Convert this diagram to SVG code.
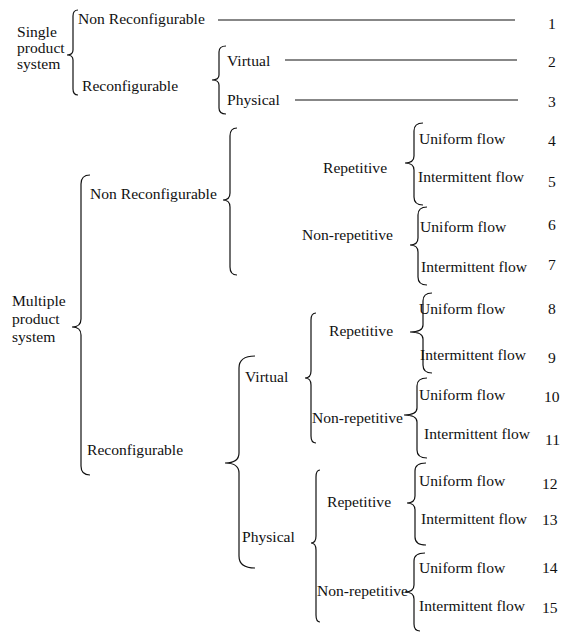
<svg xmlns="http://www.w3.org/2000/svg" width="562" height="633" viewBox="0 0 562 633">
<style>
text{font-family:"Liberation Serif","Times New Roman",serif;font-size:15.6px;fill:#111}
.b{fill:none;stroke:#111;stroke-width:1.2}
.l{stroke:#111;stroke-width:1.2}
</style>
<rect width="562" height="633" fill="#fff"/>
<g id="connectors">
<path class="b" d="M78,10 Q73,10 73,16 L73,50 Q73,55 67,55 Q73,55 73,60 L73,89 Q73,95 78,95"/>
<path class="b" d="M226,46 Q219,46 219,52 L219,75 Q219,80 212,80 Q219,80 219,85 L219,108 Q219,114 226,114"/>
<line class="l" x1="218" y1="20" x2="515" y2="20"/>
<line class="l" x1="285" y1="60" x2="517" y2="60"/>
<line class="l" x1="295" y1="100" x2="518" y2="100"/>
<path class="b" d="M90,175 Q81,175 81,184 L81,319 Q81,327 72,327 Q81,327 81,335 L81,466 Q81,475 90,475"/>
<path class="b" d="M237,128 Q230,128 230,136 L230,193 Q230,200 223,200 Q230,200 230,207 L230,267 Q230,275 237,275"/>
<path class="b" d="M423,123 Q414,123 414,131 L414,156 Q414,163 405,163 Q414,163 414,170 L414,197 Q414,205 423,205"/>
<path class="b" d="M427,207 Q418,207 418,215 L418,238 Q418,245 410,245 Q418,245 418,252 L418,277 Q418,285 427,285"/>
<path class="b" d="M255,356 Q239,356 239,368 L239,453 Q239,463 225,463 Q239,463 239,473 L239,556 Q239,568 255,568"/>
<path class="b" d="M316,313 Q311,313 311,320 L311,371 Q311,378 305,378 Q311,378 311,385 L311,436 Q311,443 316,443"/>
<path class="b" d="M432,293 Q423,293 423,301 L423,325 Q423,332 410,332 Q423,332 423,339 L423,365 Q423,373 432,373"/>
<path class="b" d="M427,378 Q417,378 417,386 L417,408 Q417,415 404,415 Q417,415 417,422 L417,450 Q417,458 427,458"/>
<path class="b" d="M320,470 Q316,470 316,477 L316,536 Q316,543 311,543 Q316,543 316,550 L316,615 Q316,622 320,622"/>
<path class="b" d="M426,463 Q415,463 415,471 L415,496 Q415,503 407,503 Q415,503 415,510 L415,537 Q415,545 426,545"/>
<path class="b" d="M425,553 Q414,553 414,561 L414,585 Q414,592 405,592 Q414,592 414,599 L414,624 Q414,631 420,631"/>
</g>
<g id="single"><text x="17" y="37">Single</text><text x="17" y="53">product</text><text x="17" y="69">system</text></g>
<g id="s-nonreconf"><text x="78" y="24">Non Reconfigurable</text></g>
<g id="s-reconf"><text x="82" y="91">Reconfigurable</text></g>
<g id="s-virtual"><text x="227" y="66">Virtual</text></g>
<g id="s-physical"><text x="227" y="105">Physical</text></g>
<g id="n1"><text x="548" y="29">1</text></g>
<g id="n2"><text x="548" y="67">2</text></g>
<g id="n3"><text x="548" y="107">3</text></g>
<g id="multiple"><text x="12" y="306">Multiple</text><text x="12" y="324">product</text><text x="12" y="342">system</text></g>
<g id="m-nonreconf"><text x="90" y="199">Non Reconfigurable</text></g>
<g id="m-nr-rep"><text x="323" y="173">Repetitive</text></g>
<g id="m-nr-nonrep"><text x="302" y="240">Non-repetitive</text></g>
<g id="f4"><text x="419" y="144">Uniform flow</text><text x="548" y="146">4</text></g>
<g id="f5"><text x="418" y="182">Intermittent flow</text><text x="548" y="187">5</text></g>
<g id="f6"><text x="420" y="232">Uniform flow</text><text x="548" y="230">6</text></g>
<g id="f7"><text x="421" y="272">Intermittent flow</text><text x="548" y="270">7</text></g>
<g id="m-reconf"><text x="87" y="455">Reconfigurable</text></g>
<g id="m-virtual"><text x="245" y="382">Virtual</text></g>
<g id="m-physical"><text x="242" y="542">Physical</text></g>
<g id="m-v-rep"><text x="329" y="336">Repetitive</text></g>
<g id="m-v-nonrep"><text x="312" y="423">Non-repetitive</text></g>
<g id="f8"><text x="419" y="314">Uniform flow</text><text x="548" y="314">8</text></g>
<g id="f9"><text x="420" y="360">Intermittent flow</text><text x="548" y="363">9</text></g>
<g id="f10"><text x="419" y="400">Uniform flow</text><text x="544" y="402">10</text></g>
<g id="f11"><text x="424" y="439">Intermittent flow</text><text x="545" y="445">11</text></g>
<g id="m-p-rep"><text x="327" y="507">Repetitive</text></g>
<g id="m-p-nonrep"><text x="317" y="596">Non-repetitive</text></g>
<g id="f12"><text x="419" y="486">Uniform flow</text><text x="542" y="489">12</text></g>
<g id="f13"><text x="421" y="524">Intermittent flow</text><text x="542" y="525">13</text></g>
<g id="f14"><text x="419" y="573">Uniform flow</text><text x="542" y="573">14</text></g>
<g id="f15"><text x="419" y="611">Intermittent flow</text><text x="542" y="613">15</text></g>
</svg>
